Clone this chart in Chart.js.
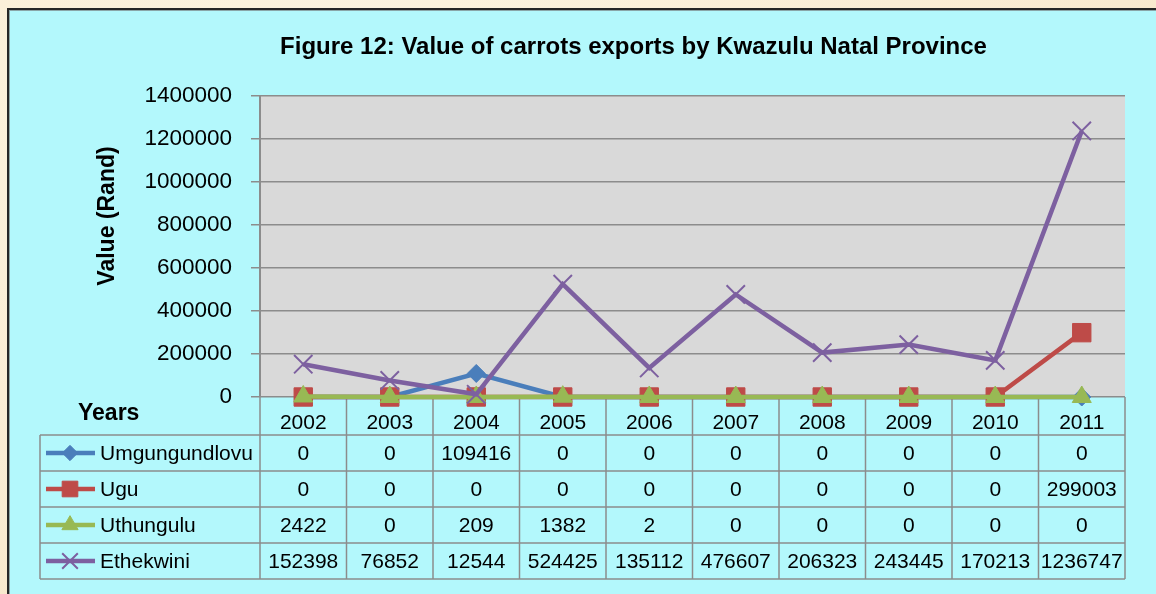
<!DOCTYPE html>
<html>
<head>
<meta charset="utf-8">
<script src="https://cdn.jsdelivr.net/npm/chart.js@4.4.1/dist/chart.umd.min.js"></script>
<style>
  html, body { margin: 0; padding: 0; }
  body { width: 1156px; height: 594px; overflow: hidden; position: relative;
         background: radial-gradient(ellipse at 30% 20%, #fdf5e2 0%, #f9ead0 70%, #f6e3c4 100%); }
  #frame { position: absolute; left: 7px; top: 8px; width: 1160px; height: 600px;
           background: #b3f8fc; border: 2px solid #262626; box-shadow: inset 1px 1px 0 #8aa6a8; }
  #wrap { position: absolute; left: 0; top: 0; width: 1156px; height: 594px; }
</style>
</head>
<body>
<div id="frame"></div>
<div id="wrap"><canvas id="carrotChart"></canvas></div>
<script>
const years = ["2002", "2003", "2004", "2005", "2006", "2007", "2008", "2009", "2010", "2011"];
const umgungundlovu = [0, 0, 109416, 0, 0, 0, 0, 0, 0, 0];
const ugu = [0, 0, 0, 0, 0, 0, 0, 0, 0, 299003];
const uthungulu = [2422, 0, 209, 1382, 2, 0, 0, 0, 0, 0];
const ethekwini = [152398, 76852, 12544, 524425, 135112, 476607, 206323, 243445, 170213, 1236747];
const yTicks = [0, 200000, 400000, 600000, 800000, 1000000, 1200000, 1400000];

const arial = "'Liberation Sans', Arial, sans-serif";
const gridGrey = "#8c8c8c";

// grey plot area
const plotBg = {
  id: "plotBg",
  beforeDraw(chart) {
    const a = chart.chartArea;
    const ctx = chart.ctx;
    ctx.save();
    ctx.fillStyle = "#d9d9d9";
    ctx.fillRect(a.left, a.top, a.right - a.left, a.bottom - a.top);
    ctx.restore();
  }
};

// data table under the x axis + y axis title
const dataTable = {
  id: "dataTable",
  beforeDatasetsDraw(chart) {
    const ctx = chart.ctx;
    const xs = chart.scales.x;
    const a = chart.chartArea;
    const sets = chart.data.datasets;
    const step = xs.getPixelForValue(1) - xs.getPixelForValue(0);
    const headH = 38, rowH = 36, keyLeft = 40;
    const rowsTop = a.bottom + headH;
    const bottom = rowsTop + rowH * sets.length;

    ctx.save();
    ctx.strokeStyle = gridGrey;
    ctx.lineWidth = 1.5;
    ctx.beginPath();
    for (let i = 0; i <= years.length; i++) {
      const px = xs.getPixelForValue(i) - step / 2;
      ctx.moveTo(px, a.bottom);
      ctx.lineTo(px, bottom);
    }
    ctx.moveTo(keyLeft, rowsTop);
    ctx.lineTo(keyLeft, bottom);
    for (let r = 0; r <= sets.length; r++) {
      const py = rowsTop + r * rowH;
      ctx.moveTo(keyLeft, py);
      ctx.lineTo(a.right, py);
    }
    ctx.stroke();

    ctx.fillStyle = "#000";
    ctx.textBaseline = "middle";
    ctx.font = "bold 23px " + arial;
    ctx.textAlign = "left";
    ctx.fillText("Years", 78, a.bottom + 17);

    sets.forEach((ds, r) => {
      const cy = rowsTop + r * rowH + rowH / 2;
      // legend key
      ctx.strokeStyle = ds.borderColor;
      ctx.lineWidth = ds.borderWidth;
      ctx.beginPath();
      ctx.moveTo(46, cy);
      ctx.lineTo(95, cy);
      ctx.stroke();
      ctx.fillStyle = ds.pointBackgroundColor;
      ctx.strokeStyle = ds.pointBorderColor;
      ctx.lineWidth = ds.pointBorderWidth;
      Chart.helpers.drawPoint(ctx, {
        pointStyle: ds.pointStyle,
        radius: ds.pointRadius * 0.85,
        rotation: 0,
        borderWidth: ds.pointBorderWidth
      }, 70, cy);

      ctx.fillStyle = "#000";
      ctx.font = "21px " + arial;
      ctx.textAlign = "left";
      ctx.fillText(ds.label, 100, cy + 1);
      ctx.textAlign = "center";
      ds.data.forEach((v, i) => {
        ctx.fillText(String(v), xs.getPixelForValue(i), cy + 1);
      });
    });

    // y axis title
    ctx.translate(108, 216);
    ctx.rotate(-Math.PI / 2);
    ctx.font = "bold 23px " + arial;
    ctx.textAlign = "center";
    ctx.fillStyle = "#000";
    ctx.fillText("Value (Rand)", 0, 0);
    ctx.restore();
  }
};

new Chart(document.getElementById("carrotChart"), {
  type: "line",
  data: {
    labels: years,
    datasets: [
      {
        label: "Umgungundlovu", data: umgungundlovu, order: 4,
        borderColor: "#4a7ebb", borderWidth: 4.5,
        pointStyle: "rectRot", pointRadius: 9, pointBorderWidth: 1,
        pointBackgroundColor: "#4a7ebb", pointBorderColor: "#4a7ebb"
      },
      {
        label: "Ugu", data: ugu, order: 3,
        borderColor: "#be4b48", borderWidth: 4.5,
        pointStyle: "rect", pointRadius: 13, pointBorderWidth: 1,
        pointBackgroundColor: "#be4b48", pointBorderColor: "#be4b48"
      },
      {
        label: "Uthungulu", data: uthungulu, order: 2,
        borderColor: "#98b954", borderWidth: 4.5,
        pointStyle: "triangle", pointRadius: 11, pointBorderWidth: 1,
        pointBackgroundColor: "#98b954", pointBorderColor: "#98b954"
      },
      {
        label: "Ethekwini", data: ethekwini, order: 1,
        borderColor: "#7d60a0", borderWidth: 4.5,
        pointStyle: "crossRot", pointRadius: 13, pointBorderWidth: 2,
        pointBackgroundColor: "#7d60a0", pointBorderColor: "#7d60a0"
      }
    ]
  },
  options: {
    responsive: true,
    maintainAspectRatio: false,
    animation: false,
    layout: { padding: { left: 142, right: 31, top: 0, bottom: 159 } },
    elements: { line: { tension: 0 } },
    datasets: { line: { clip: false } },
    plugins: {
      legend: { display: false },
      tooltip: { enabled: false },
      title: {
        display: true,
        text: "Figure 12: Value of carrots exports by Kwazulu Natal Province",
        color: "#000",
        font: { family: arial, size: 24, weight: "bold", lineHeight: 1.2 },
        padding: { top: 33, bottom: 34 }
      }
    },
    scales: {
      x: {
        offset: true,
        afterFit(scale) { scale.height = 38; },
        grid: { display: false },
        border: { display: false },
        ticks: { color: "#000", padding: 6, maxRotation: 0, font: { family: arial, size: 21 } }
      },
      y: {
        min: 0,
        max: 1400000,
        afterFit(scale) { scale.width = 118; },
        afterBuildTicks(scale) { scale.ticks = yTicks.map(v => ({ value: v })); },
        grid: { color: gridGrey, lineWidth: 1.5, tickLength: 9, tickColor: gridGrey },
        border: { color: gridGrey, width: 2 },
        ticks: {
          color: "#000", padding: 19, font: { family: arial, size: 22.5 },
          callback: v => String(v)
        }
      }
    }
  },
  plugins: [plotBg, dataTable]
});
</script>
</body>
</html>
